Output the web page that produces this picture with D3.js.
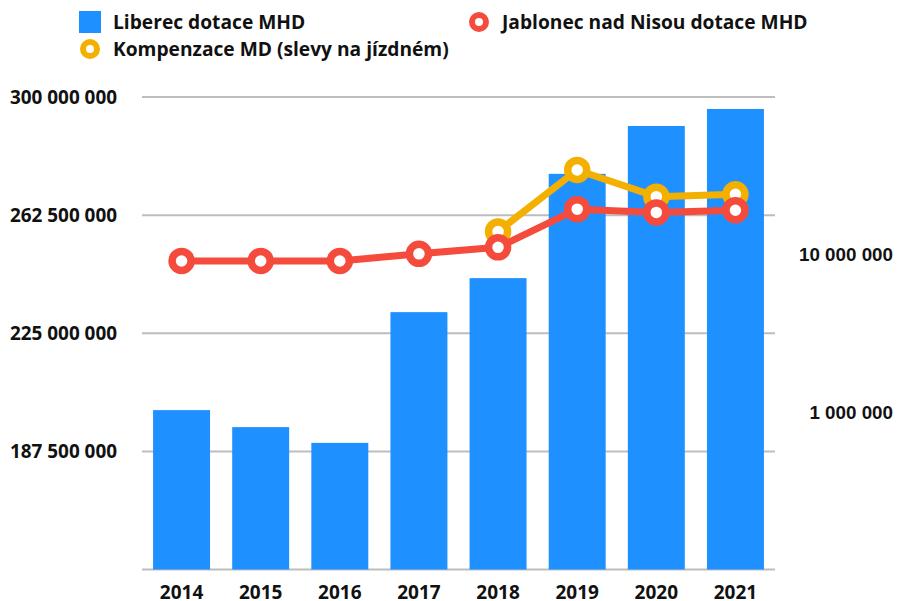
<!DOCTYPE html>
<html>
<head>
<meta charset="utf-8">
<script src="https://cdn.jsdelivr.net/npm/d3@7"></script>
<style>
  body { margin: 0; background: #fff; }
  svg text { font-family: "Open Sans", sans-serif; font-weight: bold; fill: #111; }
</style>
</head>
<body>
<svg id="chart" width="898" height="601"></svg>
<script>
const years = ["2014","2015","2016","2017","2018","2019","2020","2021"];
const liberec = [200.6e6, 195.2e6, 190.2e6, 231.7e6, 242.5e6, 275.6e6, 290.8e6, 296.2e6];
const jablonec = [9.1e6, 9.1e6, 9.1e6, 10.1e6, 11.1e6, 19.4e6, 18.5e6, 19.1e6];
const kompenzace = [null, null, null, null, 14.0e6, 34.4e6, 23.3e6, 24.1e6];
const leftTicks = [150e6, 187.5e6, 225e6, 262.5e6, 300e6];
const rightTicks = [1e6, 1e7];

const svg = d3.select("#chart");
const fmt = v => d3.format(",")(v).replace(/,/g, " ");

const x = d3.scaleBand().domain(years).range([142, 775]).paddingInner(0.28).paddingOuter(0.14);
const yL = d3.scaleLinear().domain([150e6, 300e6]).range([569.5, 97]);
const yR = d3.scaleLog().domain([1e5, 1e8]).range([569.5, 97]);

// gridlines
svg.append("g").selectAll("line")
  .data(leftTicks)
  .join("line")
    .attr("x1", 142).attr("x2", 775)
    .attr("y1", d => yL(d)).attr("y2", d => yL(d))
    .attr("stroke", "#bdbdbd").attr("stroke-width", 2);

// left labels (no label at the base)
svg.append("g").selectAll("text")
  .data(leftTicks.slice(1))
  .join("text")
    .attr("x", 117).attr("y", d => yL(d))
    .attr("dy", "0.36em")
    .attr("text-anchor", "end")
    .attr("font-size", 18.9)
    .text(fmt);

// right labels
svg.append("g").selectAll("text")
  .data(rightTicks)
  .join("text")
    .attr("x", 893).attr("y", d => yR(d))
    .attr("dy", "0.36em")
    .attr("text-anchor", "end")
    .attr("font-size", 18.8)
    .style("font-family", "'Liberation Sans', Arial, sans-serif")
    .text(fmt);

// bars
svg.append("g").selectAll("rect")
  .data(liberec)
  .join("rect")
    .attr("x", (d, i) => x(years[i]))
    .attr("width", x.bandwidth())
    .attr("y", d => yL(d))
    .attr("height", d => yL(150e6) - yL(d))
    .attr("fill", "#1e90ff");

// x labels
svg.append("g").selectAll("text")
  .data(years)
  .join("text")
    .attr("x", d => x(d) + x.bandwidth()/2)
    .attr("y", 599)
    .attr("text-anchor", "middle")
    .attr("font-size", 19)
    .text(d => d);

function drawSeries(vals, color){
  const pts = vals.map((v, i) => ({year: years[i], v})).filter(p => p.v != null);
  const line = d3.line()
      .x(p => x(p.year) + x.bandwidth()/2)
      .y(p => yR(p.v));
  svg.append("path")
      .datum(pts)
      .attr("d", line)
      .attr("fill", "none")
      .attr("stroke", color)
      .attr("stroke-width", 7)
      .attr("stroke-linejoin", "round");
  svg.append("g").selectAll("circle")
    .data(pts)
    .join("circle")
      .attr("cx", p => x(p.year) + x.bandwidth()/2)
      .attr("cy", p => yR(p.v))
      .attr("r", 9.5)
      .attr("fill", "#fff")
      .attr("stroke", color)
      .attr("stroke-width", 7.5);
}
drawSeries(kompenzace, "#f4b000");
drawSeries(jablonec, "#f44b3d");

// legend
const legend = svg.append("g");
legend.append("rect").attr("x", 79).attr("y", 11).attr("width", 22).attr("height", 22).attr("fill", "#1e90ff");
legend.append("text").attr("x", 113).attr("y", 29).attr("font-size", 19.2).text("Liberec dotace MHD");

legend.append("circle").attr("cx", 90).attr("cy", 49).attr("r", 7).attr("fill", "#fff")
  .attr("stroke", "#f4b000").attr("stroke-width", 6);
legend.append("text").attr("x", 113).attr("y", 56).attr("font-size", 19.2).text("Kompenzace MD (slevy na jízdném)");

legend.append("circle").attr("cx", 479).attr("cy", 22).attr("r", 7).attr("fill", "#fff")
  .attr("stroke", "#f44b3d").attr("stroke-width", 6);
legend.append("text").attr("x", 502).attr("y", 29).attr("font-size", 19.2).text("Jablonec nad Nisou dotace MHD");
</script>
</body>
</html>
